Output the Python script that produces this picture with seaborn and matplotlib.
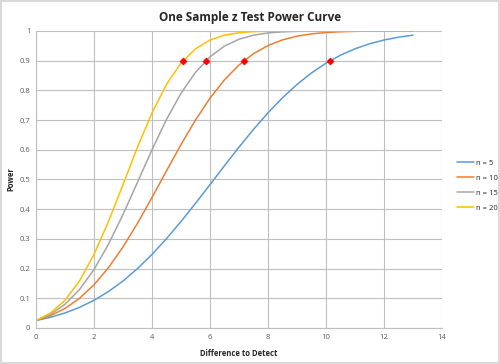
import pandas as pd
import matplotlib.pyplot as plt
import seaborn as sns

# data (difference to detect, power)
diff = [0, 0.5, 1, 1.5, 2, 2.5, 3, 3.5, 4, 4.5, 5, 5.5, 6, 6.5, 7, 7.5, 8,
        8.5, 9, 9.5, 10, 10.5, 11, 11.5, 12, 12.5, 13]
power_n5 = [0.025, 0.0359, 0.0504, 0.0693, 0.0932, 0.1227, 0.1582, 0.1999, 0.2476,
            0.3007, 0.3584, 0.4195, 0.4827, 0.5463, 0.6088, 0.6685, 0.7243, 0.7749,
            0.8199, 0.8587, 0.8915, 0.9184, 0.9399, 0.9567, 0.9695, 0.9790, 0.9858]
power_n10 = [0.025, 0.0415, 0.0657, 0.0999, 0.1454, 0.2031, 0.2727, 0.3524, 0.4392,
             0.5290, 0.6174, 0.7001, 0.7735, 0.8356, 0.8854, 0.9234, 0.9509, 0.9699,
             0.9824, 0.9901, 0.9947, 0.9973, 0.9987, 0.9994, 0.9997, 0.9999, 1.0]
power_n15 = [0.025, 0.0461, 0.0798, 0.1292, 0.1967, 0.2820, 0.3820, 0.4906, 0.5999,
             0.7019, 0.7900, 0.8606, 0.9130, 0.9491, 0.9721, 0.9857, 0.9932, 0.9970,
             0.9987, 0.9995, 0.9998, 0.9999, 1.0, 1.0, 1.0, 1.0, 1.0]
power_n20 = [0.025, 0.0504, 0.0932, 0.1582, 0.2476, 0.3584, 0.4827, 0.6088, 0.7243,
             0.8199, 0.8915, 0.9399, 0.9695, 0.9858, 0.9940, 0.9977, 0.9992, 0.9997,
             0.9999, 1.0, 1.0, 1.0, 1.0, 1.0, 1.0, 1.0, 1.0]
series_labels = ["n = 5", "n = 10", "n = 15", "n = 20"]

# points where power = 0.9
mark_x = [10.14, 7.17, 5.86, 5.07]
mark_y = [0.9, 0.9, 0.9, 0.9]

rows = []
for lab, vals in zip(series_labels, [power_n5, power_n10, power_n15, power_n20]):
    for d, p in zip(diff, vals):
        rows.append({"diff": d, "power": p, "n": lab})
df = pd.DataFrame(rows)
marks = pd.DataFrame({"diff": mark_x, "power": mark_y})

sns.set_style("white")
plt.rcParams['font.family'] = ['Open Sans', 'DejaVu Sans']

fig = plt.figure(figsize=(5, 3.64), dpi=100)
ax = fig.add_axes([0.072, 0.099, 0.812, 0.816])

palette = ["#5B9BD5", "#ED7D31", "#A5A5A5", "#FFC000"]
sns.lineplot(data=df, x="diff", y="power", hue="n", palette=palette,
             linewidth=1.1, ax=ax)
sns.scatterplot(data=marks, x="diff", y="power", marker="D", color="red",
                s=14, edgecolor="red", zorder=5, ax=ax, legend=False)

ax.set_xlim(0, 14)
ax.set_ylim(0, 1)
ax.set_xticks(range(0, 15, 2))
ax.set_yticks([i / 10 for i in range(11)])
ax.set_yticklabels(["0"] + [f"0.{i}" for i in range(1, 10)] + ["1"])
ax.tick_params(labelsize=5.5, colors="#595959", length=0, pad=4)
ax.grid(True, color="#BFBFBF", linewidth=0.8)
ax.set_axisbelow(True)
for side in ["top", "right"]:
    ax.spines[side].set_visible(False)
for side in ["left", "bottom"]:
    ax.spines[side].set_color("#BFBFBF")
    ax.spines[side].set_linewidth(0.8)

ax.set_xlabel("Difference to Detect", fontsize=5.5, fontweight="bold", labelpad=6)
ax.set_ylabel("Power", fontsize=5.5, fontweight="bold", labelpad=3)
fig.suptitle("One Sample z Test Power Curve", fontsize=8.5, fontweight="bold",
             y=0.97)

handles, labels = ax.get_legend_handles_labels()
ax.get_legend().remove()
fig.legend(handles[:4], labels[:4], loc="center left", bbox_to_anchor=(0.9, 0.49),
           frameon=False, fontsize=5.5, handlelength=2.2, handletextpad=0.3,
           labelspacing=1.0)

# chart area border
fig.patches.append(plt.Rectangle((0.002, 0.003), 0.996, 0.994, transform=fig.transFigure,
                                 fill=False, edgecolor="#D9D9D9", linewidth=1.5))

fig.savefig("out.png", dpi=100)
